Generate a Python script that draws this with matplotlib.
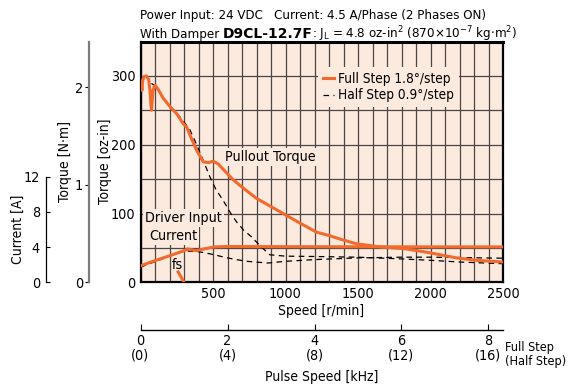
import matplotlib
matplotlib.use("Agg")
import matplotlib.pyplot as plt
import numpy as np

plt.rcParams["font.family"] = ["DejaVu Sans"]
plt.rcParams["font.stretch"] = "condensed"
plt.rcParams["mathtext.fontset"] = "dejavusans"

# speed [r/min] and torque [oz-in]
full_rpm = [5, 10, 15, 25, 40, 56, 65, 72, 76, 80, 86, 95, 102, 120, 155, 212, 250, 293,
            320, 345, 387, 433, 470, 502, 536, 580, 639, 720, 800, 900, 983, 1100, 1213,
            1300, 1374, 1489, 1650, 1833, 1994, 2178, 2315, 2500]
full_pullout = [288, 279, 294, 299, 300, 295, 280, 258, 250, 262, 278, 285, 286, 281, 268,
                253, 245, 231, 225, 212, 192, 175, 174, 176, 172, 162, 149, 135, 122, 110,
                100, 86, 73, 68, 63, 56, 51.5, 48.5, 43, 35.5, 32, 29.5]

full_cur_rpm = [0, 100, 200, 300, 327, 360, 384, 450, 511, 600, 1000, 1500, 2000, 2500]
full_current = [24, 31.5, 38.5, 46, 48.5, 47, 46, 49, 51.5, 52, 51.8, 51.6, 51.5, 51.5]

half_rpm = [75, 100, 150, 200, 250, 300, 340, 387, 433, 479, 520, 570, 620, 662, 710, 766,
            830, 892, 1000, 1200, 1500, 1800, 2000, 2200, 2500]
half_pullout = [289, 286, 271, 257, 246, 233, 222, 200, 177, 153, 135, 119, 101, 88, 76, 66,
                52, 40, 38, 37.5, 36.5, 34, 32, 29.5, 27]

half_cur_rpm = [0, 100, 200, 304, 380, 442, 520, 580, 660, 740, 878, 1000, 1200, 1500, 1800,
                2000, 2200, 2500]
half_current = [22, 30, 38, 45.5, 45, 43, 39.5, 36.3, 33, 30.4, 28, 30.5, 33, 35.5, 36.5,
                36.5, 36, 35]

fs_rpm = [260, 300]
fs_torque = [15, 0]

speed_ticks = [500, 1000, 1500, 2000, 2500]
torque_ticks = [0, 100, 200, 300]
nm_ticks = [0, 1, 2]
current_ticks = [0, 4, 8, 12]
pulse_ticks = [0, 2, 4, 6, 8]
pulse_labels = ["0\n(0)", "2\n(4)", "4\n(8)", "6\n(12)", "8\n(16)"]

ORANGE = "#f26a2c"
PEACH = "#fdeadf"
GRID = "#4d4545"
OZIN_PER_NM = 141.612
FS = 9.5
TICK_FS = 10.3

W, H = 569, 389
fig = plt.figure(figsize=(W / 100, H / 100), dpi=100)


def fx(px):
    return px / W


def fy(py):
    return 1 - py / H


left, right, top, bottom = 140.5, 503, 41.5, 282.3
ax = fig.add_axes([fx(left), fy(bottom), (right - left) / W, (bottom - top) / H])
ax.set_facecolor(PEACH)
ax.set_xlim(0, 2500)
ax.set_ylim(0, 350)
ax.set_xticks(speed_ticks)
ax.set_xticks(np.arange(0, 2501, 100), minor=True)
ax.set_yticks(torque_ticks)
ax.set_yticks(np.arange(0, 351, 50), minor=True)
ax.grid(True, which="both", color=GRID, lw=0.9)
ax.set_axisbelow(True)
ax.tick_params(which="both", length=0, labelsize=TICK_FS, pad=3.5)
for s in ax.spines.values():
    s.set_linewidth(1.6)
    s.set_color("black")
ax.spines["top"].set_linewidth(2.2)

ax.plot(full_rpm, full_pullout, color=ORANGE, lw=2.2, label="Full Step 1.8°/step", zorder=4)
ax.plot(full_cur_rpm, full_current, color=ORANGE, lw=2.2, zorder=4)
ax.plot(half_rpm, half_pullout, color="black", lw=0.9, ls=(0, (4.5, 3.5)),
        label="Half Step 0.9°/step", zorder=3)
ax.plot(half_cur_rpm, half_current, color="black", lw=0.9, ls=(0, (4.5, 3.5)), zorder=3)
ax.plot(fs_rpm, fs_torque, color=ORANGE, lw=2.2, zorder=4)

leg = ax.legend(loc="upper left",
                bbox_to_anchor=((318 - left) / (right - left), (bottom - 67) / (bottom - top)),
                borderaxespad=0, borderpad=0.35, handlelength=0.85, handletextpad=0.3,
                labelspacing=0.2, fontsize=FS + 0.3, frameon=True, fancybox=False,
                facecolor=PEACH, edgecolor="none", framealpha=1)

box = dict(facecolor=PEACH, edgecolor="none", pad=1.5)
ax.text(893, 182, "Pullout Torque", fontsize=TICK_FS, ha="center", va="center", bbox=box, zorder=5)
ax.text(31, 93, "Driver Input", fontsize=TICK_FS, ha="left", va="center", bbox=box, zorder=5)
ax.text(59, 67.5, "Current", fontsize=TICK_FS, ha="left", va="center", bbox=box, zorder=5)
ax.text(254, 25.5, "fs", fontsize=TICK_FS, ha="center", va="center", zorder=5)

fig.text(fx(321), fy(311), "Speed [r/min]", fontsize=FS + 0.5, ha="center", va="center")
fig.text(fx(105), fy(161.7), "Torque [oz-in]", fontsize=FS + 0.5, ha="center", va="center",
         rotation=90)

# N·m axis
ax_nm = fig.add_axes([fx(89.3), fy(bottom), 0.0001, (bottom - top) / H])
ax_nm.set_ylim(0, 350 / OZIN_PER_NM)
ax_nm.set_yticks(nm_ticks)
ax_nm.set_xticks([])
ax_nm.patch.set_visible(False)
for name in ["top", "right", "bottom"]:
    ax_nm.spines[name].set_visible(False)
ax_nm.spines["left"].set_color("#7a7a7a")
ax_nm.spines["left"].set_linewidth(1.6)
ax_nm.tick_params(axis="y", direction="out", length=3, width=0.8, pad=1.5, labelsize=TICK_FS)
fig.text(fx(65), fy(161), "Torque [N·m]", fontsize=FS + 0.5, ha="center", va="center",
         rotation=90)

# current axis
cur_top = 176.7
ax_cur = fig.add_axes([fx(45.5), fy(bottom), 0.0001, (bottom - cur_top) / H])
ax_cur.set_ylim(0, 12)
ax_cur.set_yticks(current_ticks)
ax_cur.set_xticks([])
ax_cur.patch.set_visible(False)
for name in ["top", "right", "bottom"]:
    ax_cur.spines[name].set_visible(False)
ax_cur.spines["left"].set_linewidth(0.9)
ax_cur.tick_params(axis="y", direction="in", length=3, width=0.8, pad=4, labelsize=TICK_FS)
fig.text(fx(18.3), fy(229), "Current [A]", fontsize=FS + 0.5, ha="center", va="center",
         rotation=90)

# pulse speed axis
ax_p = fig.add_axes([fx(left), fy(330), (right - left) / W, 0.0001])
ax_p.set_xlim(0, 2500 / 300)
ax_p.set_xticks(pulse_ticks)
ax_p.set_xticklabels(pulse_labels, linespacing=1.05)
ax_p.set_yticks([])
ax_p.patch.set_visible(False)
for name in ["top", "right", "left"]:
    ax_p.spines[name].set_visible(False)
ax_p.spines["bottom"].set_linewidth(1.0)
ax_p.tick_params(axis="x", direction="in", length=4, width=0.8, pad=3, labelsize=TICK_FS)
fig.text(fx(505), fy(355), "Full Step\n(Half Step)", fontsize=9.1, ha="left", va="center",
         linespacing=1.1)
fig.text(fx(322), fy(376.7), "Pulse Speed [kHz]", fontsize=FS + 0.5, ha="center", va="center")

# title lines
fig.text(fx(139.6), fy(16), "Power Input: 24 VDC   Current: 4.5 A/Phase (2 Phases ON)",
         fontsize=FS, ha="left", va="center")

renderer = fig.canvas.get_renderer()
base_y = fy(38)
parts = [
    ("With Damper ", dict(fontsize=FS)),
    ("D9CL-12.7F", dict(fontsize=FS + 0.5, fontweight="bold", fontstretch="normal")),
    (r": J$_{\rm L}$ = 4.8 oz-in$^2$ (870$\times$10$^{-7}$ kg$\cdot$m$^2$)", dict(fontsize=FS)),
]
x_pos = fx(139.6)
for text, kw in parts:
    t = fig.text(x_pos, base_y, text, ha="left", va="baseline", **kw)
    bb = t.get_window_extent(renderer=renderer)
    x_pos = bb.x1 / fig.dpi / fig.get_figwidth()

fig.savefig("out.png", dpi=100)
